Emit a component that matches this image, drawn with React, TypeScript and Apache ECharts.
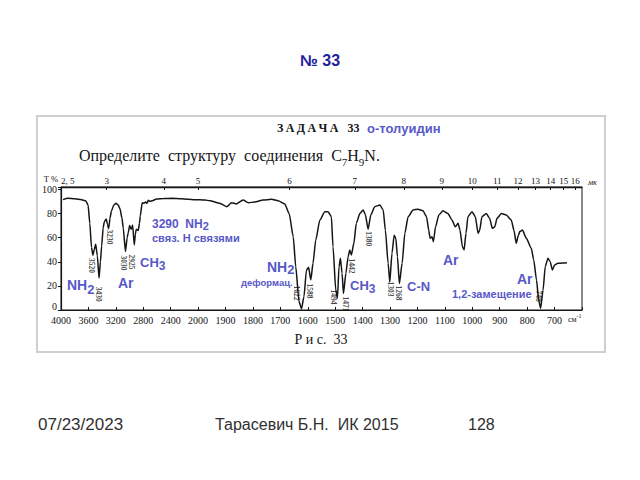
import React, { useEffect, useRef } from "react";
import * as echarts from "echarts";

// ---- Spectrum (wavenumber cm-1, transmittance %) ----
const SPEC_WN = [
  3970, 3900, 3800, 3700, 3640, 3605, 3580, 3555, 3535, 3515, 3494, 3470, 3445, 3425, 3407, 3385, 3369, 3340, 3322, 3305,
  3285, 3265, 3230, 3198, 3165, 3140, 3110, 3092, 3060, 3035, 3019, 2999, 2975, 2955, 2931, 2915, 2902, 2873, 2855, 2844,
  2815, 2790, 2765, 2745, 2727, 2700, 2678, 2605, 2500, 2387, 2250, 2144, 2050, 1975, 1957, 1921, 1896, 1878, 1860, 1836,
  1817, 1793, 1763, 1732, 1708, 1684, 1668, 1653, 1644, 1632, 1623, 1614, 1605, 1597, 1589, 1581, 1571, 1556, 1538, 1526,
  1514, 1508, 1498, 1492, 1486, 1481, 1475, 1470, 1461, 1453, 1447, 1441, 1432, 1423, 1410, 1398, 1390, 1380, 1370, 1356,
  1337, 1325, 1317, 1307, 1301, 1293, 1285, 1279, 1273, 1266, 1256, 1246, 1234, 1216, 1198, 1180, 1167, 1159, 1154, 1147,
  1142, 1134, 1122, 1107, 1089, 1074, 1062, 1052, 1045, 1036, 1030, 1023, 1016, 1001, 989, 979, 973, 965, 949, 937,
  927, 918, 910, 894, 876, 858, 848, 840, 832, 827, 817, 803, 785, 776, 766, 758, 751, 742, 734, 724,
  716, 708, 700, 688, 670, 655,
];
const SPEC_T = [
  91.5, 92.6, 92.3, 91.5, 90.6, 87, 72, 52, 45.5, 50, 54.5, 45, 26.5, 40, 53, 68, 73, 75.5, 71, 67.5,
  76, 82, 87, 88.5, 87, 84, 76, 68, 48.5, 60, 64, 70, 67, 70.5, 54, 63, 67, 66, 72, 78,
  89, 88.5, 89.5, 88.5, 91, 90, 90.5, 92, 92.5, 92.6, 92.2, 91.8, 91.5, 91.2, 90.6, 88.5, 85.7, 89, 88, 91.2,
  89, 89.5, 91.2, 91.8, 90.6, 88, 80, 60.8, 36, 7, 1, 11, 33, 35.4, 25, 38.7, 58, 74.6, 81.5, 81.5,
  77.4, 52.5, 16.6, 9.7, 36, 43, 30.4, 13.8, 30.4, 44.2, 49.8, 45.6, 55.3, 71.9, 80, 83, 79, 67, 79, 85.7,
  87, 83, 66, 38.7, 23, 47, 62, 59.5, 44.2, 22, 38.7, 63.6, 77.4, 83, 83.5, 82.3, 77.4, 66.3, 59.5, 60.8,
  56.6, 69, 78.8, 82.3, 80, 74.6, 69, 71.9, 66.3, 52.5, 49.8, 63.6, 77.4, 81.5, 77.4, 63.6, 66.3, 77.4, 80, 76,
  67.7, 69, 76, 80, 78.8, 74.6, 66, 55.3, 62, 65, 66.3, 59.5, 51.2, 41.5, 25, 8.3, 1.4, 16.6, 36, 42.9,
  40, 33.2, 37.3, 38.7, 39, 39.2,
];

// ---- Peak labels printed on the spectrum ----
const PEAK_TEXT = ["3520", "3430", "3230", "3030", "2925", "1622", "1588", "1494", "1471", "1442", "1380", "1303", "1268", "748"];
const PEAK_WN = [3548, 3453, 3286, 3082, 2965, 1640, 1593, 1505, 1461, 1440, 1378, 1297, 1268, 758];
const PEAK_T = [37, 13, 60.5, 39, 39.8, 14, 15.8, 10.8, 5, 36.5, 59, 17.4, 14, 11.6];

// ---- Axis ticks ----
const BOTTOM_TICKS_WN = [4000, 3600, 3200, 2800, 2400, 2000, 1900, 1800, 1700, 1600, 1500, 1400, 1300, 1200, 1100, 1000, 900, 800, 700];
const MICRONS = [2.5, 3, 4, 5, 6, 7, 8, 9, 10, 11, 12, 13, 14, 15, 16];
const Y_TICKS = [0, 20, 40, 60, 80, 100];

// Spectrometer scale: 400 cm-1 per division above 2000, 100 cm-1 per division below.
const wnToU = (w: number) => (w >= 2000 ? (4000 - w) / 400 : 5 + (2000 - w) / 100);
const uToWn = (u: number) => (u <= 5 ? 4000 - 400 * u : 2000 - 100 * (u - 5));

const SERIF = '"Liberation Serif", "DejaVu Serif", serif';
const SANS = '"Liberation Sans", Arial, sans-serif';
const BLUE = "#5858c8";
const INK = "#151515";

const ann = (x: number, cy: number, main: string, sub: string, size: number, drop = 1.25) => ({
  type: "text",
  x,
  y: cy - size / 2,
  z: 20,
  style: {
    text: sub ? `{n|${main}}{s|${sub}}` : `{n|${main}}`,
    align: "left",
    verticalAlign: "top",
    rich: {
      n: { fontSize: size, fontWeight: "bold", fontFamily: SANS, fill: BLUE, lineHeight: size, verticalAlign: "top" },
      s: { fontSize: Math.round(size * 0.9), fontWeight: "bold", fontFamily: SANS, fill: BLUE, lineHeight: Math.round(size * drop), verticalAlign: "bottom" },
    },
  },
});

const txt = (x: number, y: number, text: string, font: string, fill: string, align = "left") => ({
  type: "text",
  x,
  y,
  z: 20,
  style: { text, font, fill, align, verticalAlign: "middle" },
});

export default function App() {
  const ref = useRef<HTMLDivElement>(null);
  useEffect(() => {
    if (!ref.current) return;
    const chart = echarts.init(ref.current, null, { renderer: "svg" });
    const micronU = MICRONS.map((m) => wnToU(10000 / m));
    const bottomU = BOTTOM_TICKS_WN.map(wnToU);
    const specData = SPEC_WN.map((w, i) => [wnToU(w), SPEC_T[i]]);
    const peakData = PEAK_TEXT.map((t, i) => ({ name: t, value: [wnToU(PEAK_WN[i]), PEAK_T[i]] }));

    chart.setOption({
      animation: false,
      backgroundColor: "#ffffff",
      grid: { left: 61, top: 187, width: 521, height: 123, show: true, borderColor: INK, borderWidth: 1, backgroundColor: "transparent" },
      xAxis: [
        {
          type: "value",
          position: "bottom",
          min: 0,
          max: 19,
          interval: 1,
          axisLine: { show: true, lineStyle: { color: INK, width: 1.2 } },
          axisTick: { show: true, inside: true, length: 3, lineStyle: { color: INK } },
          splitLine: { show: false },
          axisLabel: {
            fontSize: 10,
            fontFamily: SERIF,
            color: INK,
            margin: 5,
            formatter: (v: number) => (bottomU.some((u) => Math.abs(u - v) < 1e-6) ? String(Math.round(uToWn(v))) : ""),
          },
        },
        {
          type: "value",
          position: "top",
          min: 0,
          max: 19,
          axisLine: { show: true, lineStyle: { color: INK, width: 1.4 } },
          axisTick: { show: true, inside: true, length: 3, customValues: micronU, lineStyle: { color: INK } },
          splitLine: { show: false },
          axisLabel: {
            customValues: micronU,
            fontSize: 9,
            fontFamily: SERIF,
            color: INK,
            margin: 2,
            alignMinLabel: "left",
            formatter: (v: number) => {
              const i = micronU.findIndex((u) => Math.abs(u - v) < 1e-6);
              if (i < 0) return "";
              return MICRONS[i] === 2.5 ? "2, 5" : String(MICRONS[i]);
            },
          },
        },
      ],
      yAxis: [
        {
          type: "value",
          min: 0,
          max: 102,
          interval: 20,
          axisLine: { show: true, lineStyle: { color: INK, width: 1.2 } },
          axisTick: { show: true, length: 3, lineStyle: { color: INK } },
          splitLine: { show: false },
          axisLabel: {
            fontSize: 10,
            fontFamily: SERIF,
            color: INK,
            margin: 4,
            formatter: (v: number) => (v === 0 ? "{z|0}" : Y_TICKS.includes(v) ? String(v) : ""),
            rich: { z: { fontSize: 10, fontFamily: SERIF, color: INK, padding: [0, 0, 7, 0] } },
          },
        },
      ],
      series: [
        {
          type: "line",
          data: specData,
          showSymbol: false,
          symbol: "none",
          smooth: 0.2,
          smoothMonotone: "x",
          lineStyle: { color: INK, width: 1.5 },
          z: 5,
        },
        {
          type: "scatter",
          data: peakData,
          symbolSize: 0,
          z: 6,
          label: {
            show: true,
            position: "inside",
            rotate: -90,
            formatter: "{b}",
            fontSize: 7.5,
            fontWeight: "bold",
            fontFamily: SERIF,
            color: INK,
          },
        },
      ],
      graphic: [
        { type: "rect", z: 1, shape: { x: 37, y: 116, width: 568, height: 236 }, style: { fill: "none", stroke: "#cfcfcf", lineWidth: 2 } },
        txt(320, 60, "№ 33", `bold 16px ${SANS}`, "#22229c", "center"),
        txt(277, 128, "З\u2009А\u2009Д\u2009А\u2009Ч\u2009А\u2002 33", `bold 12px ${SERIF}`, INK),
        txt(367, 128, "о-толуидин", `bold 13px ${SANS}`, BLUE),
        {
          type: "text",
          x: 79,
          y: 147,
          z: 20,
          style: {
            text: "{a|Определите  структуру  соединения  C}{s|7}{a|H}{s|9}{a|N.}",
            align: "left",
            verticalAlign: "top",
            rich: {
              a: { fontSize: 16, fontFamily: SERIF, fill: INK, lineHeight: 16, verticalAlign: "top" },
              s: { fontSize: 11, fontFamily: SERIF, fill: INK, lineHeight: 20, verticalAlign: "bottom" },
            },
          },
        },
        txt(58, 179, "T %", `8.5px ${SERIF}`, INK, "right"),
        txt(321, 339, "Р и с.  33", `14px ${SERIF}`, INK, "center"),
        txt(588, 182, "мк", `italic 8px ${SERIF}`, INK),
        {
          type: "text",
          x: 568,
          y: 318,
          z: 20,
          style: {
            text: "{a|см}{b|-1}",
            align: "left",
            verticalAlign: "middle",
            rich: {
              a: { fontSize: 8, fontFamily: SERIF, fill: INK, lineHeight: 10, verticalAlign: "bottom" },
              b: { fontSize: 6, fontFamily: SERIF, fill: INK, lineHeight: 10, verticalAlign: "top" },
            },
          },
        },
        ann(152, 224, "3290  NH", "2", 12, 1.1),
        txt(152, 238, "связ. Н связями", `bold 11px ${SANS}`, BLUE),
        ann(67, 285, "NH", "2", 14),
        ann(118, 283, "Ar", "", 14),
        ann(140, 262, "CH", "3", 13),
        ann(267, 267, "NH", "2", 14, 1.15),
        txt(241, 282, "деформац.", `bold 9.5px ${SANS}`, BLUE),
        ann(350, 285, "CH", "3", 13),
        ann(407, 286, "C-N", "", 13),
        ann(443, 260, "Ar", "", 14),
        ann(517, 279, "Ar", "", 14),
        txt(452, 294, "1,2-замещение", `bold 11px ${SANS}`, BLUE),
        txt(38, 424, "07/23/2023", `17px ${SANS}`, "#303030"),
        txt(215, 424, "Тарасевич Б.Н.  ИК 2015", `16px ${SANS}`, "#303030"),
        txt(468, 424, "128", `16px ${SANS}`, "#303030"),
      ],
    });
    return () => chart.dispose();
  }, []);
  return (
    <div
      ref={ref}
      style={{ position: "fixed", left: 0, top: 0, width: 640, height: 480, background: "#ffffff" }}
    />
  );
}
